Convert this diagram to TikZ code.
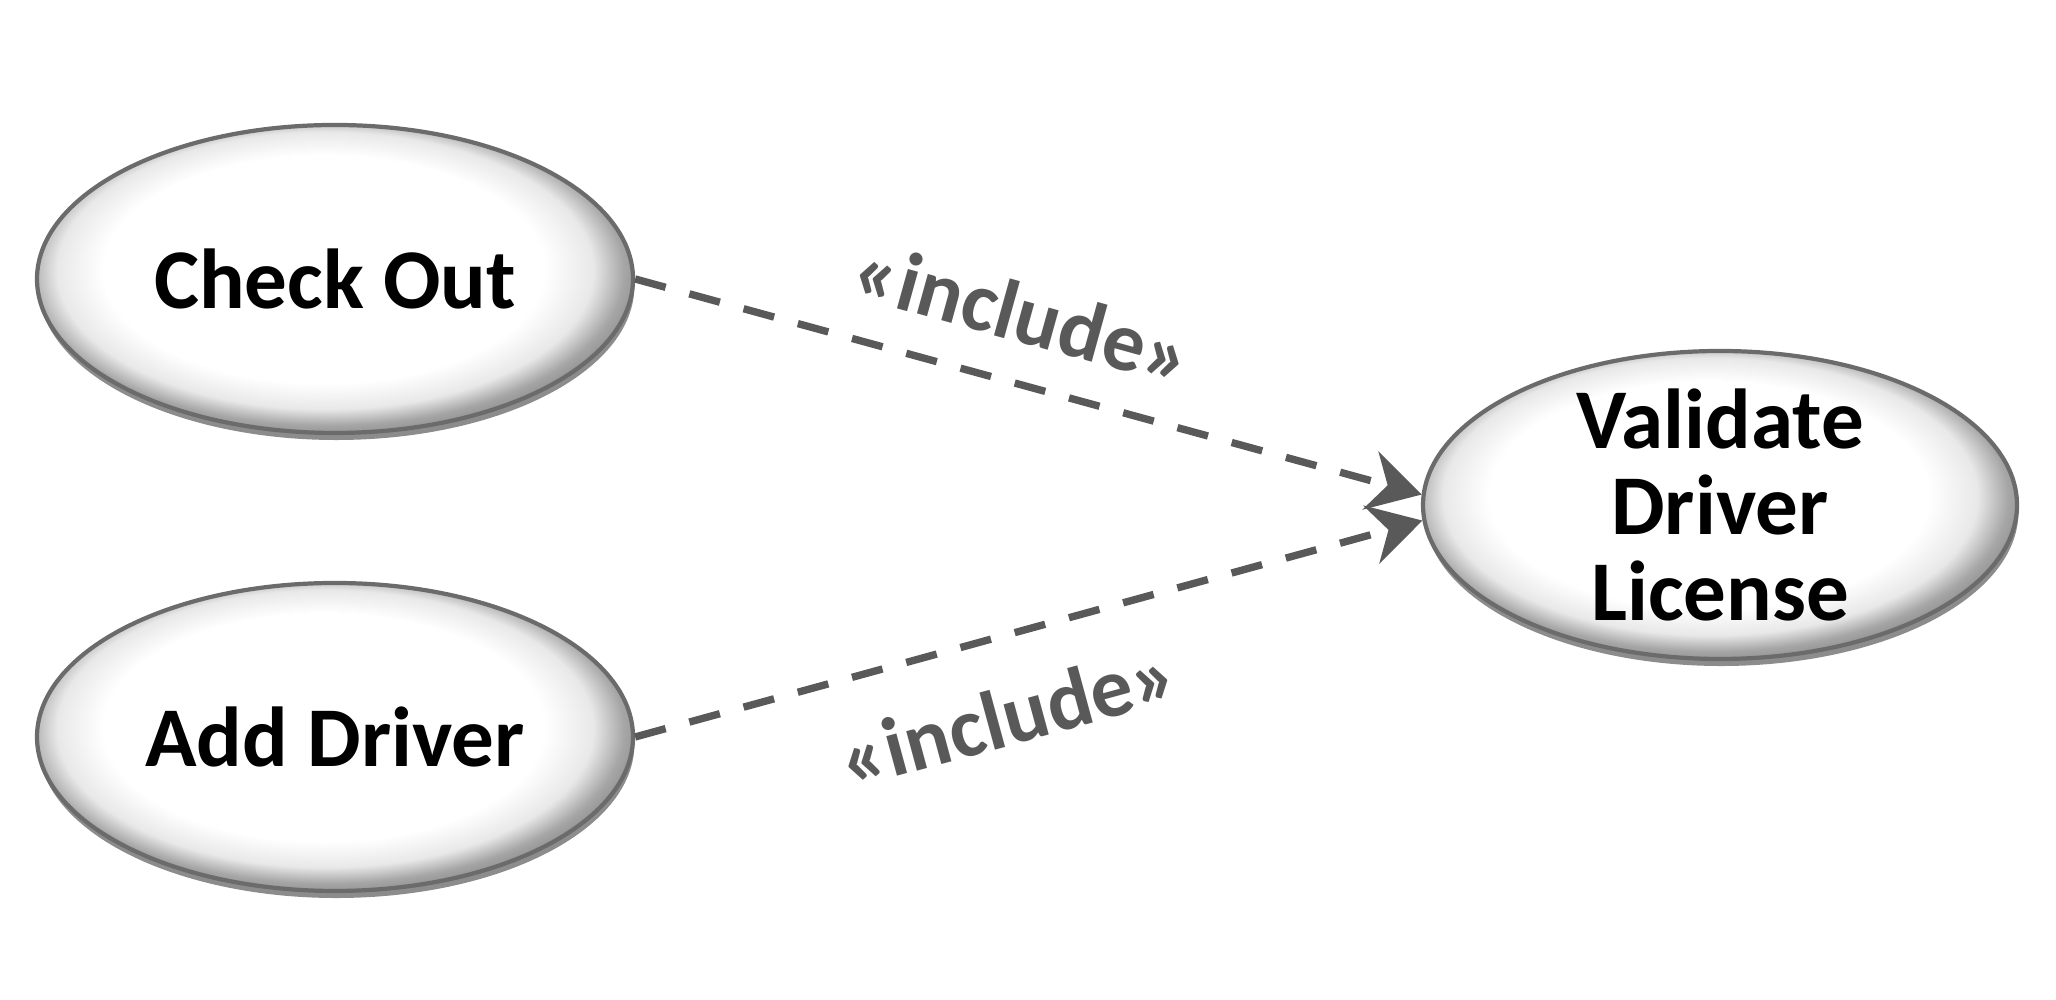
\documentclass[tikz,border=0pt]{standalone}
\usepackage{fontspec}
\setmainfont{Carlito}
\usetikzlibrary{shapes.geometric,arrows.meta,shadows}
\definecolor{lblgray}{HTML}{595959}
\pgfdeclareradialshading{ushade}{\pgfpoint{-1.5bp}{2.5bp}}{color(0bp)=(white); color(18.5bp)=(white); color(22.5bp)=(black!9); color(25bp)=(black!35); color(28bp)=(black!50); color(50bp)=(black!50)}
\tikzset{
  usecase/.style={ellipse, minimum width=5.96cm, minimum height=3.08cm, inner sep=0pt,
    shading=ushade, draw=black!58, line width=1.2pt,
    drop shadow={shadow xshift=0.4pt, shadow yshift=-2pt, fill=black!50, opacity=0.9},
    font=\fontsize{24.2}{24.6}\selectfont\bfseries, align=center, text=black},
  incl/.style={draw=lblgray, line width=2.1pt, dash pattern=on 9pt off 7pt,
    -{Stealth[length=15pt, width=17pt, inset=5pt]}},
  lbl/.style={text=lblgray, font=\fontsize{24}{24}\selectfont\bfseries, inner sep=0pt}
}
\begin{document}
\begin{tikzpicture}
\useasboundingbox (0,0) rectangle (20.56,10);
\node[usecase] (co) at (3.35,7.21) {Check Out};
\node[usecase] (ad) at (3.35,2.63) {Add Driver};
\node[usecase, minimum width=5.94cm, inner sep=-22pt] (vd) at (17.20,4.95) {Validate\\Driver\\License};
\draw[incl] (co.east) -- (vd.178.6);
\draw[incl] (ad.east) -- (vd.183);
\node[lbl, rotate=-15.5] (l1) at (10.23,6.87) {«include»};
\node[lbl, rotate=15.2] (l2) at (10.08,2.84) {«include»};
\end{tikzpicture}
\end{document}
